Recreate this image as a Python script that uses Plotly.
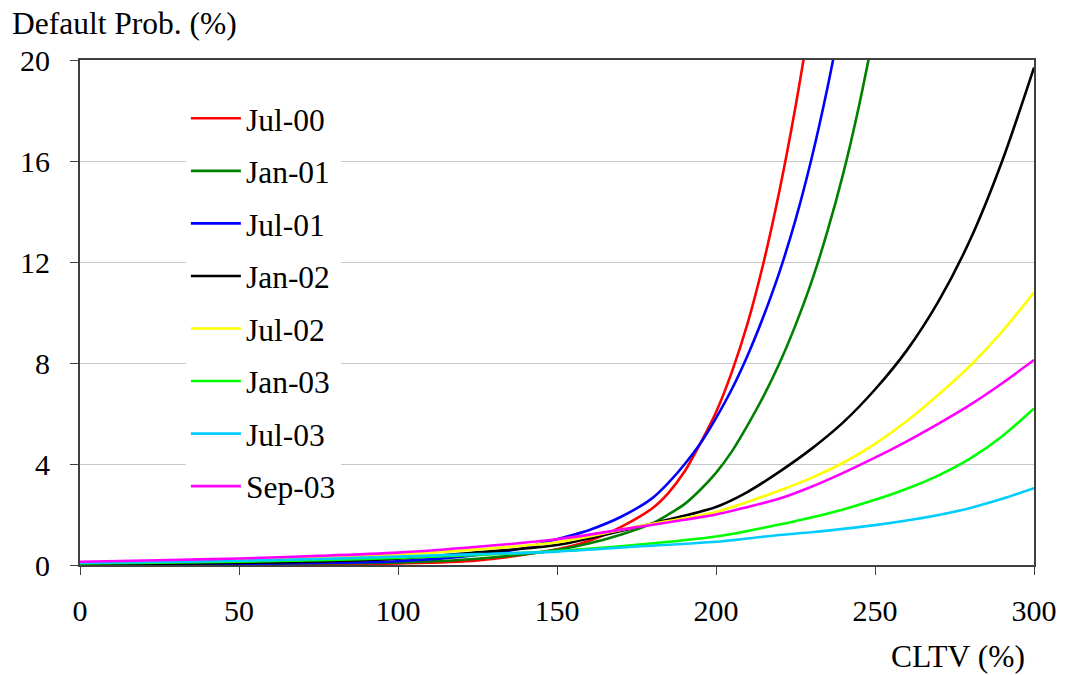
import plotly.graph_objects as go

# ---- data ----
names = ["Jul-00", "Jan-01", "Jul-01", "Jan-02", "Jul-02", "Jan-03", "Jul-03", "Sep-03"]
colors = ["#FF0000", "#008000", "#0000FF", "#000000", "#FFFF00", "#00FF00", "#00CCFF", "#FF00FF"]

x_jul00 = [0, 25, 50, 75, 100, 125, 150, 160, 170, 180, 185, 190, 195, 200, 205, 210, 215, 220, 225, 230]
y_jul00 = [0.01, 0.01, 0.02, 0.03, 0.06, 0.18, 0.62, 0.95, 1.5, 2.25, 2.85, 3.68, 4.8, 6.05, 7.65, 9.6, 12.0, 14.85, 18.15, 21.9]

x_jan01 = [0, 25, 50, 75, 100, 125, 150, 160, 170, 180, 185, 190, 195, 200, 205, 210, 215, 220, 225, 230, 235, 240, 245, 250]
y_jan01 = [0.03, 0.04, 0.05, 0.07, 0.1, 0.25, 0.6, 0.85, 1.2, 1.65, 2.0, 2.4, 2.97, 3.65, 4.5, 5.55, 6.7, 8.0, 9.5, 11.2, 13.2, 15.5, 18.2, 21.3]

x_jul01 = [0, 25, 50, 75, 100, 125, 140, 150, 160, 170, 180, 185, 190, 195, 200, 205, 210, 215, 220, 225, 230, 235, 240]
y_jul01 = [0.02, 0.03, 0.05, 0.08, 0.15, 0.4, 0.68, 1.02, 1.38, 1.9, 2.65, 3.25, 3.97, 4.8, 5.82, 6.97, 8.32, 9.87, 11.62, 13.67, 16.07, 18.87, 22.07]

x_common = [0, 25, 50, 75, 100, 125, 150, 175, 200, 210, 220, 230, 240, 250, 260, 270, 280, 290, 300]
y_jan02 = [0.03, 0.05, 0.08, 0.14, 0.25, 0.5, 0.79, 1.5, 2.3, 2.9, 3.7, 4.6, 5.65, 6.95, 8.5, 10.45, 12.9, 16.0, 19.7]
y_jul02 = [0.1, 0.15, 0.21, 0.3, 0.42, 0.62, 0.9, 1.52, 2.1, 2.5, 2.95, 3.45, 4.05, 4.8, 5.7, 6.75, 7.9, 9.25, 10.8]
y_jan03 = [0.06, 0.09, 0.13, 0.19, 0.28, 0.4, 0.55, 0.8, 1.13, 1.35, 1.6, 1.88, 2.2, 2.58, 3.02, 3.55, 4.22, 5.1, 6.2]
y_jul03 = [0.08, 0.12, 0.17, 0.24, 0.33, 0.43, 0.53, 0.73, 0.92, 1.05, 1.19, 1.3, 1.43, 1.58, 1.76, 1.98, 2.26, 2.62, 3.04]
y_sep03 = [0.13, 0.19, 0.26, 0.36, 0.49, 0.72, 1.02, 1.5, 2.0, 2.3, 2.63, 3.1, 3.65, 4.25, 4.9, 5.6, 6.35, 7.2, 8.12]

x_ticks = [0, 50, 100, 150, 200, 250, 300]
y_ticks = [0, 4, 8, 12, 16, 20]

series_x = [x_jul00, x_jan01, x_jul01, x_common, x_common, x_common, x_common, x_common]
series_y = [y_jul00, y_jan01, y_jul01, y_jan02, y_jul02, y_jan03, y_jul03, y_sep03]

FONT = "Liberation Serif, Times New Roman, serif"

fig = go.Figure()
for i, (nm, col, xs, ys) in enumerate(zip(names, colors, series_x, series_y)):
    fig.add_trace(go.Scatter(
        x=xs, y=ys, name=nm, mode="lines",
        line=dict(color=col, width=2.6, shape="spline", smoothing=0.8),
        legendgroup=f"g{i}",
    ))

fig.update_layout(
    width=1069, height=675,
    margin=dict(l=80, r=31, t=60, b=110),
    paper_bgcolor="white", plot_bgcolor="white",
    font=dict(family=FONT, size=30, color="black"),
    showlegend=True,
    legend=dict(
        x=0.111, y=0.938, xanchor="left", yanchor="top",
        bgcolor="white", borderwidth=0,
        font=dict(family=FONT, size=31.5, color="black"),
        traceorder="grouped", tracegroupgap=8.6,
        itemwidth=50,
    ),
    xaxis=dict(
        range=[0, 300], tickvals=x_ticks, ticktext=[str(v) for v in x_ticks],
        showgrid=False, zeroline=False,
        showline=True, mirror=True, linecolor="#404040", linewidth=2,
        ticks="outside", ticklen=8, tickcolor="#404040", tickwidth=1,
        ticklabelstandoff=10,
        tickfont=dict(family=FONT, size=30, color="black"),
    ),
    yaxis=dict(
        range=[0, 20], tickvals=y_ticks, ticktext=[str(v) for v in y_ticks],
        showgrid=True, gridcolor="#C8C8C8", gridwidth=1, zeroline=False,
        showline=True, mirror=True, linecolor="#404040", linewidth=2,
        ticks="outside", ticklen=8, tickcolor="#404040", tickwidth=1,
        ticklabelstandoff=14,
        tickfont=dict(family=FONT, size=30, color="black"),
    ),
    annotations=[
        dict(text="Default Prob. (%)", xref="paper", yref="paper",
             x=-0.073, y=1.072, xanchor="left", yanchor="middle",
             showarrow=False, font=dict(family=FONT, size=31.5, color="black")),
        dict(text="CLTV (%)", xref="paper", yref="paper",
             x=0.993, y=-0.182, xanchor="right", yanchor="middle",
             showarrow=False, font=dict(family=FONT, size=31.5, color="black")),
    ],
)

# remove the default 8px page margin so the figure fills the window exactly
fig.write_html(
    "out.html",
    config={"displayModeBar": False},
    post_script="document.body.style.margin='0';document.body.style.overflow='hidden';",
)
